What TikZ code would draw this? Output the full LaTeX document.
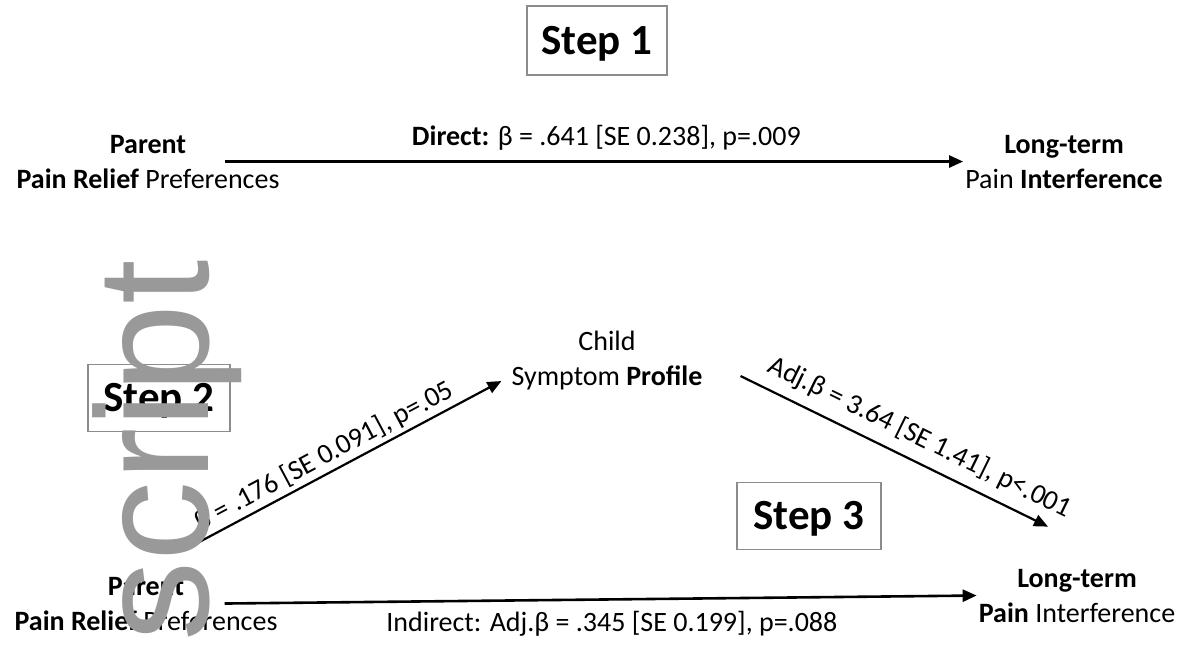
\documentclass[tikz,border=0pt]{standalone}
\usepackage{fontspec}
\setmainfont{Carlito}
\newfontfamily\wmfont{Liberation Sans}
\usetikzlibrary{arrows.meta,calc}
\begin{document}
\begin{tikzpicture}[x=1pt,y=-1pt,
  lbl/.style={font=\fontsize{28}{35}\selectfont, align=center, inner sep=2pt},
  coef/.style={font=\fontsize{28}{34}\selectfont, inner sep=1pt},
  stepbox/.style={draw=black!45, line width=1.5pt, minimum width=142pt, minimum height=67pt,
    font=\fontsize{43}{50}\selectfont\bfseries, inner sep=0pt, text height=27pt, text depth=0pt},
  arr/.style={line width=2.6pt, -{Triangle[length=14pt,width=12pt]}},
  diag/.style={line width=2.2pt, -{Triangle[length=14pt,width=12pt]}},
  wm/.style={text=black!40, font=\wmfont\fontsize{160}{160}\selectfont, inner sep=0pt}
]
\useasboundingbox (0,0) rectangle (1192,654);
\fill[white] (0,0) rectangle (1192,654);

% Step 1
\node[stepbox, minimum width=140pt, minimum height=69pt] (S1) at (597,40.5) {Step 1};
\node[lbl, anchor=base] (P1) at (148,188) {\textbf{Parent}\\\textbf{Pain Relief} Preferences};
\node[lbl, anchor=base] (L1) at (1064,188) {\textbf{Long-term}\\Pain \textbf{Interference}};
\coordinate (d1) at ($(P1.east)+(-57,0)$);
\draw[arr] (d1) -- node[coef, pos=0.517, above=9pt] (k0) {\textbf{Direct:} β = .641 [SE 0.238], p=.009} (L1.west);

% Steps 2 and 3
\node[lbl, anchor=base] (C) at (607,385) {Child\\Symptom \textbf{Profile}};
\node[stepbox] (S2) at (159,398) {Step 2};
\node[stepbox, minimum width=144pt] (S3) at (809,516) {Step 3};
\node[lbl, anchor=base] (P2) at (146,630) {\textbf{Parent}\\\textbf{Pain Relief} Preferences};
\node[lbl, anchor=base] (L2) at (1077,622) {\textbf{Long-term}\\\textbf{Pain} Interference};

\coordinate (a1s) at ($(P2.base)+(42,-82)$);
\coordinate (a1e) at ($(C.west)+(-8,21)$);
\coordinate (a2s) at ($(C.east)+(36,16)$);
\coordinate (a2e) at ($(L2.north)+(-29,-40)$);
\coordinate (d2) at ($(P2.east)+(-55,0)$);

\draw[diag] (a1s) -- node[coef, sloped, above=2pt, pos=0.46] (k1) {β = .176 [SE 0.091], p=.05} (a1e);
\draw[diag] (a2s) -- node[coef, sloped, above=9pt, pos=0.55] (k2) {Adj.β = 3.64 [SE 1.41], p<.001} (a2e);
\draw[arr] (d2) -- node[coef, pos=0.515, below=10pt] (k3) {Indirect: Adj.β = .345 [SE 0.199], p=.088} (L2.west);

% watermark
\node[wm, rotate=90, anchor=base west] (wmk) at (208,642) {script};
\end{tikzpicture}
\end{document}
